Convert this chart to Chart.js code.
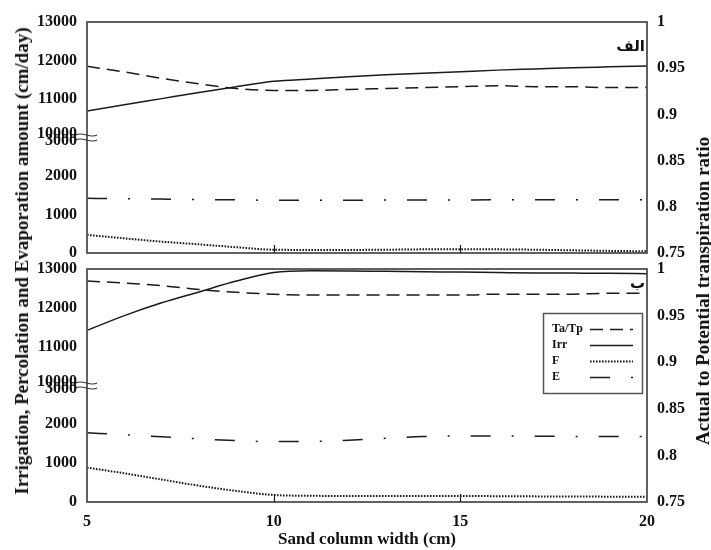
<!DOCTYPE html>
<html>
<head>
<meta charset="utf-8">
<script src="https://cdn.jsdelivr.net/npm/chart.js@4.4.1/dist/chart.umd.min.js"></script>
<style>
  html, body { margin: 0; padding: 0; background: #fff; }
  #wrap { position: relative; width: 711px; height: 550px; overflow: hidden; background: #fff; }
  #wrap canvas { position: absolute; left: 0; top: 0; }
  .ytitle {
    position: absolute; white-space: nowrap; color: #111;
    font: bold 19px "Liberation Serif", "Times New Roman", serif;
    transform: translate(-50%, -50%) rotate(-90deg);
  }
</style>
</head>
<body>
<div id="wrap">
  <canvas id="panelA" width="711" height="550"></canvas>
  <canvas id="panelB" width="711" height="550"></canvas>
  <div class="ytitle" id="leftTitle" style="left:22px; top:261px;">Irrigation, Percolation and Evaporation amount (cm/day)</div>
  <div class="ytitle" id="rightTitle" style="left:703px; top:291px;">Actual to Potential transpiration ratio</div>
</div>
<script>
// Sand column widths (cm)
const widthCm = [5, 6, 7, 8, 9, 10, 11, 12, 13, 14, 15, 16, 17, 18, 19, 20];

// Panel الف
const taTpA = [0.952, 0.946, 0.939, 0.933, 0.928, 0.926, 0.926, 0.927, 0.928, 0.929, 0.930, 0.931, 0.930, 0.930, 0.929, 0.929];
const irrA  = [10690, 10850, 11010, 11170, 11320, 11460, 11520, 11580, 11630, 11670, 11710, 11750, 11780, 11810, 11835, 11860];
const fA    = [470, 380, 295, 225, 150, 85, 80, 80, 85, 95, 100, 95, 85, 70, 55, 45];
const eA    = [1420, 1410, 1400, 1390, 1380, 1370, 1370, 1372, 1374, 1376, 1378, 1380, 1380, 1380, 1380, 1380];

// Panel ب
const taTpB = [0.987, 0.985, 0.982, 0.978, 0.975, 0.973, 0.972, 0.972, 0.972, 0.972, 0.972, 0.973, 0.973, 0.973, 0.974, 0.974];
const irrB  = [11420, 11800, 12130, 12410, 12690, 12910, 12955, 12950, 12940, 12930, 12920, 12910, 12900, 12895, 12890, 12880];
const fB    = [885, 740, 580, 420, 285, 180, 160, 155, 155, 155, 155, 150, 145, 140, 138, 135];
const eB    = [1785, 1730, 1680, 1625, 1580, 1555, 1560, 1590, 1640, 1685, 1700, 1700, 1695, 1690, 1685, 1685];

// Tick labels of the broken left axis (one per axis unit) and series names
const leftTickLabels = ['0', '1000', '2000', ['10000', '3000'], '11000', '12000', '13000'];
const seriesNames = ['Ta/Tp', 'Irr', 'F', 'E'];
const panelNames = ['الف', 'ب'];

const SERIF = '"Liberation Serif", "Times New Roman", serif';
const INK = '#1b1b1b';

// Broken left axis: 0–3000 fills the lower half, 10000–13000 the upper half.
function brokenAxis(v) {
  return v <= 3000 ? v / 1000 : 3 + (v - 10000) / 1000;
}

function buildDatasets(taTp, irr, f, e) {
  const pts = (arr, map) => arr.map((v, i) => ({ x: widthCm[i], y: map ? map(v) : v }));
  return [
    { label: seriesNames[0], data: pts(taTp), yAxisID: 'y2', borderDash: [13, 7], borderWidth: 1.5 },
    { label: seriesNames[1], data: pts(irr, brokenAxis), yAxisID: 'y', borderDash: [], borderWidth: 1.5 },
    { label: seriesNames[2], data: pts(f, brokenAxis), yAxisID: 'y', borderDash: [1.6, 1.4], borderWidth: 2 },
    { label: seriesNames[3], data: pts(e, brokenAxis), yAxisID: 'y', borderDash: [20, 21, 2, 21], borderWidth: 1.5 }
  ].map(d => Object.assign({
    borderColor: INK, pointRadius: 0, fill: false, cubicInterpolationMode: 'monotone'
  }, d));
}

// Frame, inward x ticks, axis-break marks and panel letter
const panelDecor = {
  id: 'panelDecor',
  afterDraw(chart, args, opts) {
    const { ctx, chartArea: a, scales } = chart;
    ctx.save();
    ctx.strokeStyle = '#505050';
    ctx.lineWidth = 1.8;
    ctx.setLineDash([]);
    ctx.strokeRect(a.left, a.top, a.right - a.left, a.bottom - a.top);

    ctx.strokeStyle = INK;
    ctx.lineWidth = 1.2;
    [10, 15].forEach(v => {
      const x = Math.round(scales.x.getPixelForValue(v)) + 0.5;
      ctx.beginPath();
      ctx.moveTo(x, a.bottom);
      ctx.lineTo(x, a.bottom - 8);
      ctx.stroke();
    });

    const yb = scales.y.getPixelForValue(3);
    ctx.lineWidth = 1.1;
    ctx.strokeStyle = '#333';
    [-2.5, 2.5].forEach(dy => {
      const y = yb + dy, x0 = a.left - 11, x1 = a.left + 10;
      ctx.beginPath();
      ctx.moveTo(x0, y);
      ctx.bezierCurveTo(x0 + 7, y - 4, x0 + 14, y + 4, x1, y);
      ctx.stroke();
    });

    ctx.fillStyle = '#111';
    ctx.font = 'bold 15px "DejaVu Sans", sans-serif';
    ctx.textAlign = 'right';
    ctx.textBaseline = 'middle';
    ctx.fillText(opts.letter, a.right - 2, a.top + opts.letterDy);
    ctx.restore();
  }
};

// Boxed key: name on the left, line sample on the right
const boxedKey = {
  id: 'boxedKey',
  afterDraw(chart, args, opts) {
    if (!opts.show) return;
    const { ctx, chartArea: a } = chart;
    const bx = a.right - 104, by = a.top + 44, bw = 99, bh = 80;
    ctx.save();
    ctx.strokeStyle = '#555';
    ctx.lineWidth = 1.5;
    ctx.setLineDash([]);
    ctx.strokeRect(bx + 0.5, by + 0.5, bw, bh);
    ctx.font = 'bold 12px ' + SERIF;
    ctx.fillStyle = '#111';
    ctx.textAlign = 'left';
    ctx.textBaseline = 'middle';
    chart.data.datasets.forEach((ds, i) => {
      const y = by + 16 + i * 16;
      ctx.fillText(ds.label, bx + 9, y);
      ctx.strokeStyle = INK;
      ctx.lineWidth = ds.borderWidth;
      ctx.setLineDash(ds.borderDash);
      ctx.beginPath();
      ctx.moveTo(bx + 47, y + 0.5);
      ctx.lineTo(bx + 90, y + 0.5);
      ctx.stroke();
    });
    ctx.restore();
  }
};

function buildOptions(isBottom) {
  const tickFont = { family: SERIF, size: 16, weight: 'bold' };
  return {
    responsive: false,
    animation: false,
    devicePixelRatio: 1,
    layout: { padding: { left: 0, right: 0, top: isBottom ? 269 : 22, bottom: isBottom ? 0 : 297 } },
    plugins: {
      legend: { display: false },
      tooltip: { enabled: false },
      panelDecor: { letter: isBottom ? panelNames[1] : panelNames[0], letterDy: isBottom ? 15 : 25 },
      boxedKey: { show: isBottom }
    },
    scales: {
      x: {
        type: 'linear', min: 5, max: 20, display: isBottom,
        grid: { display: false, drawTicks: false }, border: { display: false },
        ticks: { stepSize: 5, padding: 10, color: '#111', font: tickFont },
        title: {
          display: true, text: 'Sand column width (cm)', color: '#111',
          font: { family: SERIF, size: 17, weight: 'bold' }, padding: { top: 0, bottom: 0 }
        },
        afterFit(s) { s.height = isBottom ? 48 : 0; }
      },
      y: {
        position: 'left', min: 0, max: 6,
        grid: { display: false, drawTicks: false }, border: { display: false },
        ticks: {
          stepSize: 1, padding: 10, color: '#111',
          font: { family: SERIF, size: 16, weight: 'bold', lineHeight: 0.45 },
          callback: v => leftTickLabels[Math.round(v)]
        },
        afterFit(s) { s.width = 87; }
      },
      y2: {
        position: 'right', min: 0.75, max: 1,
        grid: { display: false, drawTicks: false }, border: { display: false },
        ticks: {
          stepSize: 0.05, padding: 10, color: '#111', font: tickFont,
          callback: v => String(+v.toFixed(2))
        },
        afterFit(s) { s.width = 64; }
      }
    }
  };
}

new Chart(document.getElementById('panelA'), {
  type: 'line',
  data: { datasets: buildDatasets(taTpA, irrA, fA, eA) },
  options: buildOptions(false),
  plugins: [panelDecor, boxedKey]
});

new Chart(document.getElementById('panelB'), {
  type: 'line',
  data: { datasets: buildDatasets(taTpB, irrB, fB, eB) },
  options: buildOptions(true),
  plugins: [panelDecor, boxedKey]
});
</script>
</body>
</html>
